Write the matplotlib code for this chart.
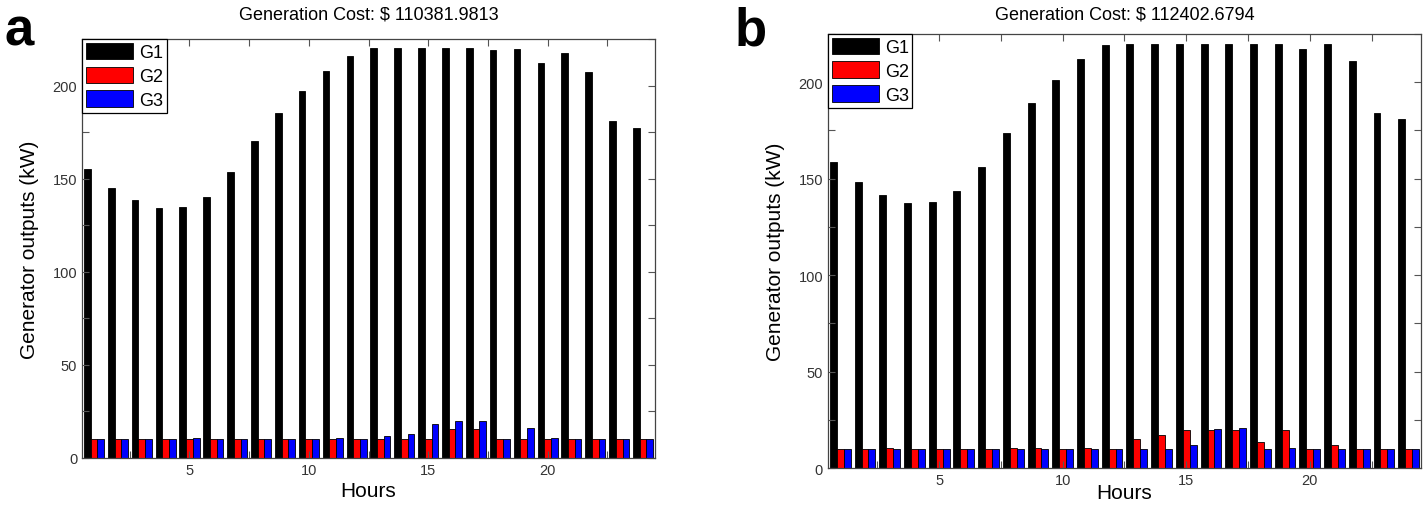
import numpy as np
import matplotlib
matplotlib.use("Agg")
import matplotlib.pyplot as plt
from matplotlib.ticker import MultipleLocator

plt.rcParams['font.family'] = ['Liberation Sans', 'DejaVu Sans']

hours = np.arange(1, 25)

# panel a
g1_a = [155, 145, 138.6, 134.3, 135, 140.4, 153.7, 170.3, 185.2, 197.2, 208, 216,
        220, 220, 220, 220, 220, 219.1, 219.6, 212, 217.3, 207.1, 181.1, 177]
g2_a = [10, 10, 10, 10, 10, 10, 10, 10, 10, 10, 10, 10,
        10, 10, 10, 15.3, 15.3, 10, 10, 10, 10, 10, 10, 10]
g3_a = [10, 10, 10, 10, 10.6, 10, 10, 10, 10, 10, 10.6, 10,
        11.7, 13, 18.4, 19.6, 19.6, 10, 15.9, 10.6, 10, 10, 10, 10]
cost_a = "110381.9813"

# panel b
g1_b = [158.4, 148, 141.6, 137.3, 137.8, 143.4, 156, 173.4, 189, 200.9, 211.8, 219.5,
        220, 220, 220, 220, 220, 220, 220, 217.1, 220, 211, 184.1, 180.8]
g2_b = [10, 10, 10.5, 10, 10, 10, 10, 10.5, 10.5, 10, 10.5, 10,
        15.2, 16.9, 19.5, 19.5, 19.5, 13.5, 19.5, 10, 11.7, 10, 10, 10]
g3_b = [10, 10, 10, 10, 10, 10, 10, 10, 10, 10, 10, 10,
        10, 10, 12.2, 20, 20.7, 10, 10.5, 10, 10, 10, 10, 10]
cost_b = "112402.6794"

fig = plt.figure(figsize=(14.27, 5.06), dpi=100)
ax_a = fig.add_axes([0.0575, 0.093, 0.4015, 0.828])
ax_b = fig.add_axes([0.5802, 0.073, 0.4156, 0.858])

w = 0.28
for ax, g1, g2, g3, cost, tpad, xpad in [(ax_a, g1_a, g2_a, g3_a, cost_a, 15, 3),
                                         (ax_b, g1_b, g2_b, g3_b, cost_b, 11, -3)]:
    ax.bar(hours - w, g1, w, color="black", edgecolor="black", linewidth=0.6, label="G1")
    ax.bar(hours, g2, w, color="red", edgecolor="black", linewidth=0.6, label="G2")
    ax.bar(hours + w, g3, w, color="blue", edgecolor="black", linewidth=0.6, label="G3")
    ax.set_xlim(0.5, 24.5)
    ax.set_ylim(0, 225)
    ax.xaxis.set_major_locator(MultipleLocator(5))
    ax.xaxis.set_minor_locator(MultipleLocator(2.5))
    ax.yaxis.set_major_locator(MultipleLocator(50))
    ax.yaxis.set_minor_locator(MultipleLocator(25))
    ax.tick_params(which="both", direction="in", top=True, right=True, length=5,
                   width=0.8, color="#555555", labelsize=10.5, labelcolor="#333333")
    for s in ax.spines.values():
        s.set_color("#444444")
        s.set_linewidth(0.9)
    ax.set_title("Generation Cost: $ " + cost, fontsize=13, pad=tpad)
    ax.set_xlabel("Hours", fontsize=15, labelpad=xpad)
    ax.set_ylabel("Generator outputs (kW)", fontsize=15, labelpad=10)
    leg = ax.legend(loc="upper left", fontsize=13, borderaxespad=0, fancybox=False,
                    edgecolor="black", framealpha=1, handlelength=2.6, handleheight=1.05,
                    labelspacing=0.3, borderpad=0.2, handletextpad=0.35)
    leg.get_frame().set_linewidth(0.9)

fig.text(0.003, 0.91, "a", fontsize=38, fontweight="bold")
fig.text(0.515, 0.91, "b", fontsize=38, fontweight="bold")

fig.savefig("out.png", dpi=100)
